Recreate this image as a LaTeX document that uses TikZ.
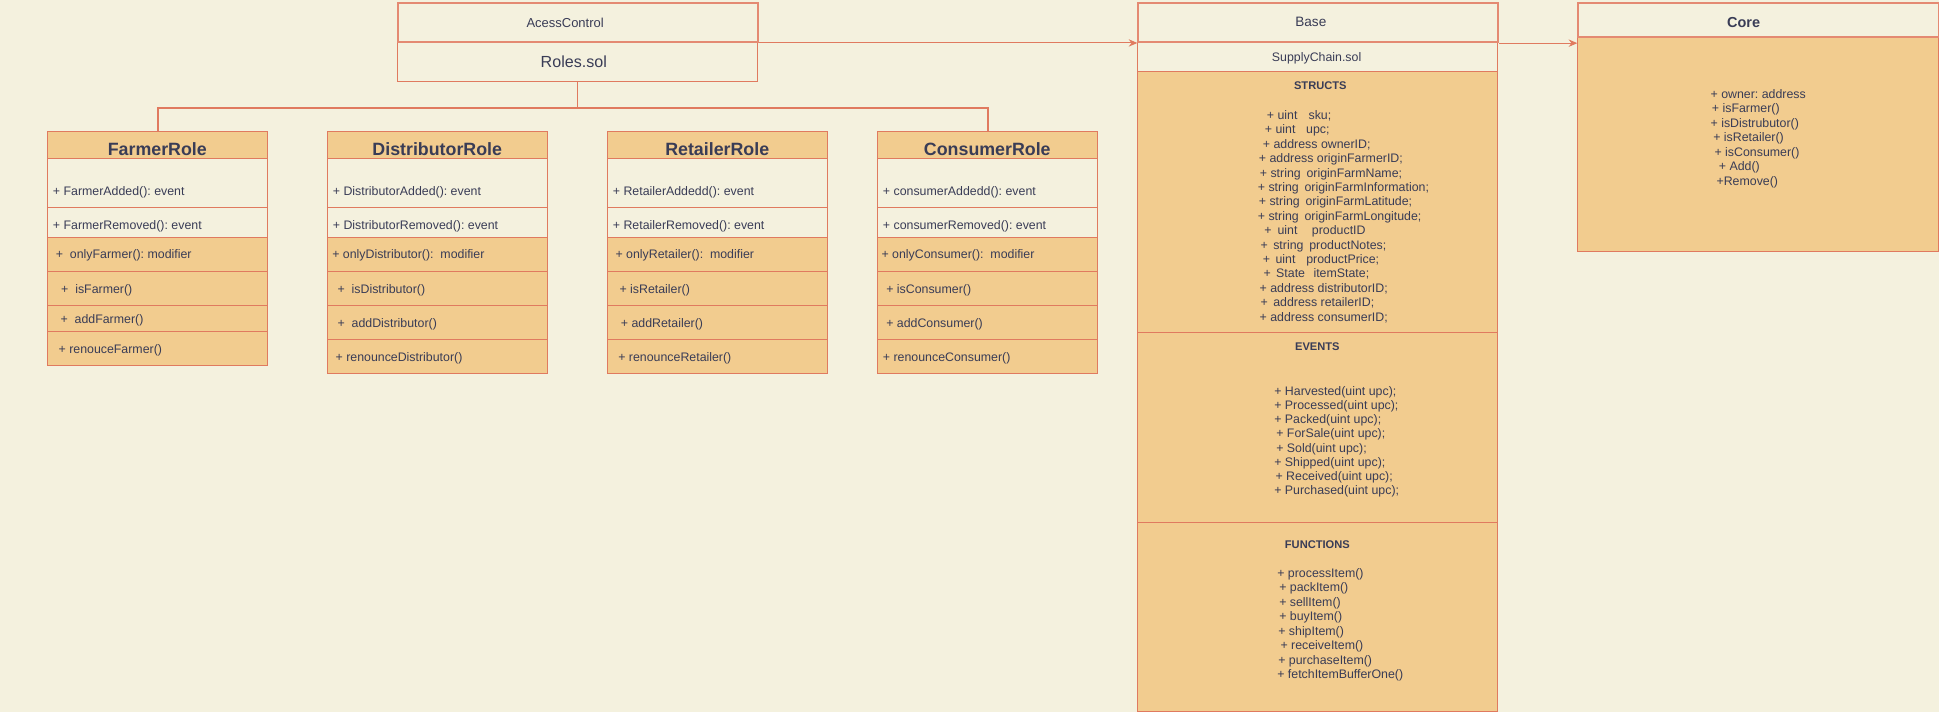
\documentclass[tikz,border=0pt]{standalone}
\usepackage{fontspec}
\setmainfont{Liberation Sans}
\usetikzlibrary{arrows.meta}
\definecolor{bgc}{HTML}{F4F1DE}
\definecolor{orf}{HTML}{F2CC8F}
\definecolor{strk}{HTML}{E07A5F}
\definecolor{txt}{HTML}{393C56}
\tikzset{
 sec/.style={draw=strk, line width=0.8pt, rectangle, inner sep=0pt, anchor=north west},
 osec/.style={sec, fill=orf},
 csec/.style={sec, fill=bgc},
 hdr/.style={sec, fill=bgc, line width=1.5pt, draw=strk!88!white},
 lbl/.style={anchor=base west, inner sep=0pt, text=txt, font=\fontsize{10}{12}\selectfont},
 clbl/.style={anchor=base, inner sep=0pt, text=txt, font=\fontsize{10}{12}\selectfont},
 ttl/.style={anchor=base, inner sep=0pt, text=txt, font=\fontsize{14.4}{16}\selectfont\bfseries},
 sttl/.style={anchor=base, inner sep=0pt, text=txt, font=\fontsize{9}{11}\selectfont\bfseries},
 tree/.style={draw=strk, line width=1.6pt},
 conn/.style={draw=strk, line width=0.8pt, -{Stealth[length=7pt,width=6pt]}},
}
\newcommand\secbox[6]{\node[#2, minimum width=#5pt, minimum height=#6pt] (#1) at (#3,#4) {};}
\newcommand\mytxt[4]{\node[lbl] (#1) at (#2,#3+3.6) {#4};}
\newcommand\gap[1]{\hspace{#1pt}}
\begin{document}
\frenchspacing
\begin{tikzpicture}[x=1pt,y=-1pt]
\fill[bgc] (0,0) rectangle (1568,576);
\useasboundingbox (0,0) rectangle (1568,576);

% ---------- AccessControl ----------
\secbox{roles}{csec}{321}{33.2}{291.2}{32.7}
\secbox{ac}{hdr}{321}{1.35}{291.2}{31.9}
\node[clbl, font=\fontsize{10.5}{12}\selectfont] (actxt) at (457,18.1+3.8) {AcessControl};
\node[clbl, font=\fontsize{13}{15}\selectfont] (rolestxt) at (464,49.6+4.7) {Roles.sol};

% ---------- Farmer ----------
\secbox{fh}{osec}{38.3}{106}{177.9}{21.5}
\secbox{fa}{csec}{38.3}{127.5}{177.9}{40.2}
\secbox{fb}{csec}{38.3}{167.7}{177.9}{24.2}
\secbox{fc}{osec}{38.3}{191.9}{177.9}{27.5}
\secbox{fd}{osec}{38.3}{219.4}{177.9}{27.5}
\secbox{fe}{osec}{38.3}{246.9}{177.9}{21}
\secbox{ff}{osec}{38.3}{267.9}{177.9}{27.3}
\node[ttl] (ft) at (127.2,120.5+5.2) {FarmerRole};
\mytxt{f1}{42.6}{154.2}{+ FarmerAdded(): event}
\mytxt{f2}{42.6}{181.7}{+ FarmerRemoved(): event}
\mytxt{f3}{45}{205.7}{+\ \ onlyFarmer(): modifier}
\mytxt{f4}{49.3}{233.4}{+\ \ isFarmer()}
\mytxt{f5}{48.8}{257.7}{+\ \ addFarmer()}
\mytxt{f6}{47.2}{282}{+ renouceFarmer()}

% ---------- Distributor, Retailer, Consumer ----------
\foreach \p/\x in {d/264.7, r/491.1, c/709.5}{
\secbox{\p h}{osec}{\x}{106}{177.9}{21.5}
\secbox{\p a}{csec}{\x}{127.5}{177.9}{40.2}
\secbox{\p b}{csec}{\x}{167.7}{177.9}{24.2}
\secbox{\p c}{osec}{\x}{191.9}{177.9}{27.5}
\secbox{\p d}{osec}{\x}{219.4}{177.9}{27.5}
\secbox{\p e}{osec}{\x}{246.9}{177.9}{27.5}
\secbox{\p f}{osec}{\x}{274.4}{177.9}{27.5}
}
\node[ttl] (dt) at (353.6,120.5+5.2) {DistributorRole};
\mytxt{d1}{269}{154.2}{+ DistributorAdded(): event}
\mytxt{d2}{269}{181.7}{+ DistributorRemoved(): event}
\mytxt{d3}{268.5}{205.7}{+ onlyDistributor():\ \ modifier}
\mytxt{d4}{272.8}{233.4}{+\ \ isDistributor()}
\mytxt{d5}{272.8}{260.9}{+\ \ addDistributor()}
\mytxt{d6}{271.2}{288.4}{+ renounceDistributor()}

\node[ttl] (rt) at (580,120.5+5.2) {RetailerRole};
\mytxt{r1}{495.4}{154.2}{+ RetailerAddedd(): event}
\mytxt{r2}{495.4}{181.7}{+ RetailerRemoved(): event}
\mytxt{r3}{497.6}{205.7}{+ onlyRetailer():\ \ modifier}
\mytxt{r4}{500.8}{233.4}{+ isRetailer()}
\mytxt{r5}{501.9}{260.9}{+ addRetailer()}
\mytxt{r6}{499.8}{288.4}{+ renounceRetailer()}

\node[ttl] (ct) at (798.4,120.5+5.2) {ConsumerRole};
\mytxt{c1}{713.8}{154.2}{+ consumerAddedd(): event}
\mytxt{c2}{713.8}{181.7}{+ consumerRemoved(): event}
\mytxt{c3}{712.7}{205.7}{+ onlyConsumer():\ \ modifier}
\mytxt{c4}{716.5}{233.4}{+ isConsumer()}
\mytxt{c5}{716.5}{260.9}{+ addConsumer()}
\mytxt{c6}{713.8}{288.4}{+ renounceConsumer()}

% ---------- tree connectors ----------
\draw[tree] (roles.south) -- ++(0,20.3) -| (fh.north);
\draw[tree] (roles.south) -- ++(0,20.3) -| (ch.north);

% ---------- Base ----------
\secbox{bsc}{csec}{919.7}{33.4}{291.1}{24}
\secbox{bst}{osec}{919.7}{57.4}{291.1}{210.8}
\secbox{bev}{osec}{919.7}{268.2}{291.1}{153.6}
\secbox{bfn}{osec}{919.7}{421.8}{291.1}{153.2}
\secbox{base}{hdr}{919.7}{1.35}{291.1}{32.05}
\node[clbl, font=\fontsize{11}{13}\selectfont] (basetxt) at (1060,17.8+4) {Base};
\node[clbl] (sctxt) at (1064.7,46.1+3.6) {SupplyChain.sol};
\node[sttl] (stt) at (1067.7,69.5+3.2) {STRUCTS};
\mytxt{s1}{1024.3}{93.0}{+ uint\gap{9}sku;}
\mytxt{s2}{1022.7}{104.65}{+ uint\gap{8.6}upc;}
\mytxt{s3}{1021.1}{116.3}{+ address ownerID;}
\mytxt{s4}{1017.8}{127.95}{+ address originFarmerID;}
\mytxt{s5}{1018.6}{139.6}{+ string\gap{4.7}originFarmName;}
\mytxt{s6}{1017.0}{151.25}{+ string\gap{4.7}originFarmInformation;}
\mytxt{s7}{1017.8}{162.9}{+ string\gap{4.7}originFarmLatitude;}
\mytxt{s8}{1017.0}{174.55}{+ string\gap{4.7}originFarmLongitude;}
\mytxt{s9}{1022.2}{186.2}{+\gap{4.9}uint\gap{11.7}productID}
\mytxt{s10}{1019.2}{197.85}{+\gap{4.4}string\gap{4.7}productNotes;}
\mytxt{s11}{1021.1}{209.5}{+\gap{4.4}uint\gap{8.7}productPrice;}
\mytxt{s12}{1021.6}{221.15}{+\gap{4.4}State\gap{6.8}itemState;}
\mytxt{s13}{1018.4}{232.8}{+ address distributorID;}
\mytxt{s14}{1019.2}{244.45}{+\gap{4.4}address retailerID;}
\mytxt{s15}{1018.4}{256.1}{+ address consumerID;}

\node[sttl] (evt) at (1065.3,280.3+3.2) {EVENTS};
\mytxt{e1}{1030.3}{315.9}{+ Harvested(uint upc);}
\mytxt{e2}{1030.3}{327.2}{+ Processed(uint upc);}
\mytxt{e3}{1030.3}{338.6}{+ Packed(uint upc);}
\mytxt{e4}{1031.9}{350.4}{+ ForSale(uint upc);}
\mytxt{e5}{1031.9}{362.0}{+ Sold(uint upc);}
\mytxt{e6}{1030.3}{373.8}{+ Shipped(uint upc);}
\mytxt{e7}{1031.3}{385.2}{+ Received(uint upc);}
\mytxt{e8}{1030.3}{396.5}{+ Purchased(uint upc);}

\node[sttl] (fnt) at (1065.3,440.5+3.2) {FUNCTIONS};
\mytxt{g1}{1032.7}{463.4}{+ processItem()}
\mytxt{g2}{1034.3}{474.9}{+ packItem()}
\mytxt{g3}{1034.3}{486.6}{+ sellItem()}
\mytxt{g4}{1034.3}{498.4}{+ buyItem()}
\mytxt{g5}{1033.5}{510.0}{+ shipItem()}
\mytxt{g6}{1035.3}{521.3}{+ receiveItem()}
\mytxt{g7}{1033.5}{533.5}{+ purchaseItem()}
\mytxt{g8}{1032.7}{545.0}{+ fetchItemBufferOne()}

% ---------- Core ----------
\secbox{cbody}{osec}{1275.5}{29.4}{291.4}{173.6}
\secbox{core}{hdr}{1275.5}{1.35}{291.4}{28.05}
\node[clbl, font=\fontsize{11.7}{13}\selectfont\bfseries] (coretxt) at (1410,17.8+4.2) {Core};
\mytxt{k1}{1383.1}{75.7}{+ owner: address}
\mytxt{k2}{1384.2}{87.6}{+ isFarmer()}
\mytxt{k3}{1383.1}{99.5}{+ isDistrubutor()}
\mytxt{k4}{1385.3}{110.5}{+ isRetailer()}
\mytxt{k5}{1386.3}{122.6}{+ isConsumer()}
\mytxt{k6}{1389.8}{134.0}{+ Add()}
\mytxt{k7}{1387.9}{146.4}{+Remove()}

% ---------- arrows ----------
\draw[conn] (ac.south east) -- (ac.south east -| base.west);
\draw[conn] (base.south east) -- (base.south east -| core.west);
\end{tikzpicture}
\end{document}
